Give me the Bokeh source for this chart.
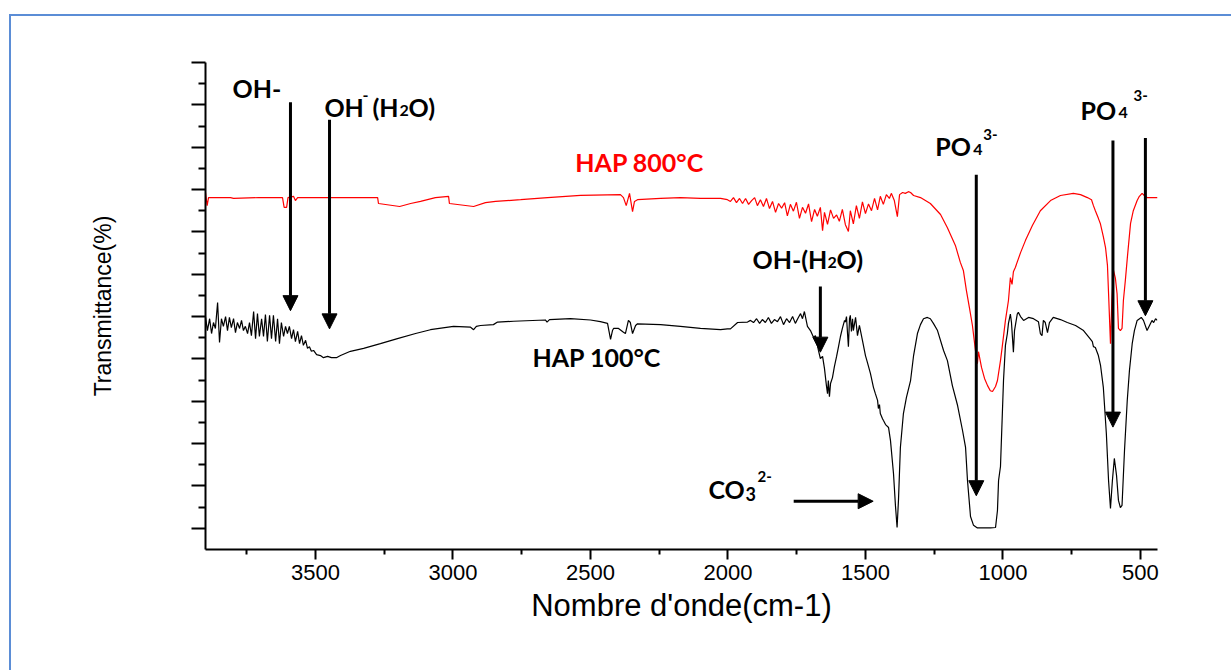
from bokeh.plotting import figure
from bokeh.models import (Range1d, FixedTicker, Label, Arrow, NormalHead,
                          CustomJSTickFormatter)
from bokeh.embed import file_html
from bokeh.resources import INLINE

# ---------------- data (wavenumber cm-1, transmittance a.u.) ----------------
hap800_wn = [3900, 3894, 3889, 3809, 3798, 3707, 3620, 3614, 3605, 3600, 3580, 3573, 3565,
             3274, 3271, 3194, 3154, 3118, 3064, 3016, 3013, 2925, 2882, 2845, 2754, 2656, 2536,
             2391, 2380, 2370, 2358, 2347, 2340, 2329, 2245, 2173, 2100, 2027,
             2002, 1991, 1980, 1969, 1958, 1947, 1936, 1925, 1914, 1903, 1893, 1882, 1871, 1860,
             1849, 1838, 1827, 1816, 1805, 1794, 1784, 1773, 1762, 1751, 1740, 1729, 1718, 1707,
             1696, 1685, 1675, 1664, 1656, 1649, 1638, 1627, 1616, 1605, 1595, 1584, 1573, 1562,
             1555, 1544, 1533, 1522, 1511, 1500, 1489, 1478, 1467, 1456, 1446, 1435, 1424, 1413,
             1406, 1395, 1384, 1376, 1365, 1355, 1344, 1336,
             1325, 1300, 1264, 1227, 1202, 1173, 1155, 1144, 1133, 1122, 1111, 1100, 1093, 1089,
             1078, 1067, 1056, 1046, 1038, 1027, 1020, 1009, 1002, 991, 980, 973, 967, 962, 955,
             936, 918, 893, 864, 827, 791, 744, 718, 693, 678, 671, 664, 653, 646, 635, 627, 620,
             615, 609, 604, 598, 591, 585, 580, 573, 567, 562, 555, 547, 536, 526, 512, 504, 494,
             486, 476, 438]
hap800_t = [79.3, 76.2, 78.1, 78.1, 77.9, 78.1, 78.1, 75.8, 75.8, 78.1, 78.4, 77.4, 78.1,
            78.1, 76.7, 76.0, 76.7, 77.2, 78.1, 78.4, 76.7, 76.0, 76.9, 77.2, 77.6, 78.1, 78.6,
            78.8, 78.1, 76.2, 79.1, 74.8, 77.2, 77.6, 77.9, 78.1, 77.9, 77.9,
            77.6, 77.2, 78.1, 76.9, 77.9, 76.7, 77.9, 76.5, 77.4, 78.1, 76.2, 77.6, 76.0, 77.9,
            75.5, 77.2, 74.6, 76.7, 75.6, 76.9, 73.8, 76.5, 74.9, 77.0, 73.2, 75.8, 74.4, 76.6,
            72.4, 75.3, 73.7, 75.8, 70.3, 74.6, 71.8, 75.2, 73.2, 74.0, 72.5, 75.3, 71.7, 70.1,
            75.0, 71.9, 76.2, 73.2, 77.1, 74.3, 76.6, 75.0, 77.9, 75.2, 78.4, 76.5, 78.8, 77.9,
            79.1, 77.4, 73.6, 78.8, 79.3, 79.1, 79.5, 79.3,
            78.6, 78.1, 76.7, 74.1, 71.0, 66.8, 62.8, 60.9, 56.2, 52.1, 47.9, 42.0, 38.9, 41.7,
            38.0, 35.4, 33.7, 32.5, 32.3, 33.5, 34.9, 39.6, 43.2, 49.1, 53.8, 59.2, 57.6, 60.6, 61.6,
            65.1, 68.0, 71.5, 75.0, 77.4, 78.6, 79.1, 78.8, 78.1, 77.6, 76.2, 75.0, 73.2, 72.0, 68.9, 66.3, 62.1,
            53.8, 43.6, 53.8, 60.9, 59.0, 55.4, 47.2, 46.7, 47.2, 53.8, 58.5, 64.4, 72.0, 75.0, 77.4, 78.4, 79.1,
            78.6, 78.1, 78.1]

hap100_wn = [3900, 3893, 3885, 3878, 3871, 3864, 3856, 3849, 3842, 3835, 3827, 3820, 3813, 3806,
             3798, 3791, 3784, 3776, 3769, 3762, 3755, 3747, 3740, 3733, 3725, 3718, 3711, 3704,
             3696, 3689, 3682, 3675, 3667, 3660, 3653, 3645, 3638, 3631, 3624, 3616, 3609, 3602,
             3595, 3587, 3580, 3573, 3565, 3558, 3551, 3544, 3536, 3529, 3522, 3515, 3507, 3496,
             3482, 3471, 3456, 3442, 3424, 3409, 3373, 3325, 3264, 3202, 3136, 3082, 2998, 2936,
             2925, 2915, 2900, 2853, 2838, 2780, 2664, 2658, 2649, 2573, 2500, 2464, 2438, 2427,
             2420, 2416, 2398, 2380, 2373, 2362, 2355, 2347, 2336, 2329, 2245, 2173, 2100, 2027,
             2002, 1991, 1965, 1929, 1918, 1907, 1896, 1885, 1875, 1864, 1853, 1842, 1831, 1820,
             1809, 1798, 1787, 1776, 1765, 1755, 1744, 1736, 1729, 1722, 1711, 1700, 1689, 1682,
             1671, 1664, 1656, 1649, 1642, 1638, 1635, 1631, 1627, 1620, 1613, 1605, 1598, 1591,
             1584, 1576, 1573, 1569, 1565, 1562, 1558, 1555, 1551, 1547, 1544, 1536, 1529, 1522,
             1511, 1500, 1493, 1482, 1471, 1464, 1456, 1453, 1449, 1446, 1438, 1435, 1427, 1416,
             1409, 1398, 1391, 1385, 1380, 1373, 1362, 1351, 1336, 1325, 1311, 1300, 1289, 1275,
             1264, 1253, 1238, 1216, 1202, 1184, 1165, 1147, 1136, 1129, 1118, 1107, 1093, 1045,
             1027, 1020, 1016, 1009, 998, 991, 984, 980, 973, 969, 962, 958, 948, 944, 936, 925,
             907, 889, 871, 864, 858, 853, 846, 838, 831, 817, 791, 766, 736, 707, 682, 675, 671,
             664, 653, 645, 635, 624, 616, 609, 602, 595, 587, 580, 573, 567, 558, 548, 540, 530,
             522, 512, 497, 489, 476, 467, 458, 452, 445, 439]
hap100_t = [50.0, 46.7, 49.5, 46.0, 48.6, 47.2, 53.3, 43.9, 49.5, 47.7, 50.0, 46.7, 49.8, 47.4,
            49.5, 46.2, 48.6, 47.2, 49.1, 46.7, 47.7, 46.0, 48.6, 45.5, 51.2, 44.8, 50.7, 45.3,
            49.5, 45.3, 50.5, 44.1, 50.3, 44.8, 50.3, 44.1, 49.5, 43.6, 48.6, 45.3, 47.7, 46.0,
            47.7, 44.8, 46.9, 44.1, 46.5, 43.6, 45.5, 43.2, 44.4, 42.5, 42.9, 41.8, 42.0, 41.0,
            40.8, 40.3, 40.6, 40.3, 40.3, 40.8, 41.8, 42.5, 43.6, 44.8, 46.0, 46.9, 47.7, 47.5,
            46.9, 47.7, 47.9, 48.1, 48.7, 48.9, 49.2, 48.7, 49.3, 49.5, 49.2, 48.8, 48.4, 44.6,
            46.7, 47.2, 47.2, 46.3, 46.0, 49.1, 48.6, 46.0, 47.9, 48.3, 48.1, 47.7, 47.2, 46.9,
            47.1, 47.1, 48.6, 48.7, 49.1, 48.6, 49.5, 48.4, 49.3, 48.6, 49.8, 48.4, 49.3, 48.8,
            50.0, 48.1, 49.5, 48.6, 50.0, 48.4, 49.8, 50.7, 49.5, 51.2, 47.7, 46.7, 45.1, 45.5,
            42.0, 40.1, 40.6, 37.7, 33.7, 31.8, 34.9, 31.1, 34.2, 35.6, 38.2, 40.6, 42.9, 45.3,
            47.2, 49.1, 48.7, 50.0, 45.8, 42.9, 49.5, 50.3, 46.5, 49.5, 46.7, 49.8, 45.5, 47.9,
            44.4, 40.8, 39.2, 36.6, 33.3, 31.8, 30.2, 28.3, 29.2, 27.1, 25.9, 25.5, 24.5, 23.8,
            20.7, 12.9, 5.4, 0.2, 6.6, 19.1, 27.1, 30.9, 34.9, 40.8, 46.0, 48.1, 49.5, 49.8,
            49.5, 48.4, 46.7, 42.0, 39.6, 33.7, 29.0, 23.1, 19.1, 11.3, 2.8, 0.7, 0.1, 0.1,
            0.2, 4.2, 11.3, 14.6, 34.9, 43.2, 46.0, 48.4, 50.6, 48.6, 41.6, 46.7, 50.6, 51.0, 50.0, 49.1,
            49.8, 49.5, 48.8, 46.0, 45.5, 49.1, 48.6, 46.2, 48.6, 49.8, 49.3, 48.6, 47.9, 46.7, 44.7, 44.1, 42.9,
            42.7, 40.8, 38.4, 33.3, 22.4, 11.3, 4.7, 11.3, 16.5, 12.5, 6.6, 4.9, 5.4, 18.4, 30.2, 37.3, 43.6,
            46.7, 49.1, 49.8, 49.1, 46.7, 47.9, 49.1, 48.6, 49.5, 49.1]

x_ticks = [3500, 3000, 2500, 2000, 1500, 1000, 500]
x_minor = [3750, 3250, 2750, 2250, 1750, 1250, 750]
y_ticks = list(range(0, 111, 10))
y_minor = list(range(5, 110, 10))

# vertical arrows: wavenumber, start T, end T
arrow_wn = [3591, 3449, 1664, 1097, 600, 482]
arrow_t0 = [100.6, 96.5, 57.1, 83.5, 91.6, 92.2]
arrow_t1 = [51.4, 47.1, 41.6, 7.7, 23.9, 50.2]
# horizontal CO3 arrow
co3_arrow_wn = [1761, 1472]
co3_arrow_t = 6.4

# annotation anchors (wavenumber, transmittance of text baseline)
lab_oh = (3787, 103.9)
lab_oh_h2o = (3453, 99.5)
lab_oh_h2o_2 = (1911, 63.7)
lab_hap800 = (2555, 86.5)
lab_hap100 = (2711, 40.4)
lab_co3 = (2071, 9.4)
lab_po4_a = (1246, 90.4)
lab_po4_b = (718, 98.9)

assert len(hap800_wn) == len(hap800_t), (len(hap800_wn), len(hap800_t))
assert len(hap100_wn) == len(hap100_t), (len(hap100_wn), len(hap100_t))

W, H = 1260, 700
p = figure(width=W, height=H, output_backend="svg", toolbar_location=None,
           x_range=Range1d(3900, 438), y_range=Range1d(-5, 110))
p.min_border_left = 205
p.min_border_right = W - 1157
p.min_border_top = 62
p.min_border_bottom = H - 549
p.outline_line_color = None
p.xgrid.visible = False
p.ygrid.visible = False
p.background_fill_color = "white"
p.border_fill_color = None
# light blue frame of the picture (top and left edges), painted behind the transparent canvas;
# the figure is pinned to the window so its far edges fall outside the view
p.styles = {"position": "fixed", "left": "0px", "top": "0px",
            "background-color": "white",
            "box-shadow": "inset 9px 14px 0px 0px white, inset 11px 16px 0px 0px #5B8DD6"}

p.line(hap800_wn, hap800_t, line_color="#FF0000", line_width=1.2)
p.line(hap100_wn, hap100_t, line_color="black", line_width=1.2)

xa = p.xaxis[0]
xa.ticker = FixedTicker(ticks=x_ticks, minor_ticks=x_minor)
xa.axis_label = "Nombre d'onde(cm-1)"
xa.axis_label_text_font = "Liberation Sans"
xa.axis_label_text_font_style = "normal"
xa.axis_label_text_font_size = "31px"
xa.axis_label_text_color = "black"
xa.axis_label_standoff = 5
xa.major_label_text_font = "Liberation Sans"
xa.major_label_text_font_size = "22px"
xa.major_label_text_color = "black"
xa.major_label_standoff = 5
xa.axis_line_width = 2
xa.major_tick_line_width = 2
xa.minor_tick_line_width = 2
xa.major_tick_out = 10
xa.major_tick_in = 0
xa.minor_tick_out = 5
xa.minor_tick_in = 0

ya = p.yaxis[0]
ya.ticker = FixedTicker(ticks=y_ticks, minor_ticks=y_minor)
ya.formatter = CustomJSTickFormatter(code="return ''")
ya.axis_label = "Transmittance(%)"
ya.axis_label_text_font = "Liberation Sans"
ya.axis_label_text_font_style = "normal"
ya.axis_label_text_font_size = "23px"
ya.axis_label_text_color = "black"
ya.axis_label_standoff = 76
ya.major_label_text_color = None
ya.major_label_standoff = 0
ya.axis_line_width = 2
ya.major_tick_line_width = 2
ya.minor_tick_line_width = 2
ya.major_tick_out = 14
ya.major_tick_in = 0
ya.minor_tick_out = 7
ya.minor_tick_in = 0

for wn, t0, t1 in zip(arrow_wn, arrow_t0, arrow_t1):
    p.add_layout(Arrow(end=NormalHead(size=15, fill_color="black", line_color="black", line_width=1),
                       x_start=wn, y_start=t0, x_end=wn, y_end=t1,
                       line_color="black", line_width=3))
p.add_layout(Arrow(end=NormalHead(size=15, fill_color="black", line_color="black", line_width=1),
                   x_start=co3_arrow_wn[0], y_start=co3_arrow_t,
                   x_end=co3_arrow_wn[1], y_end=co3_arrow_t,
                   line_color="black", line_width=3))

MAIN, SMALL = 25, 16


def add_label(anchor, pieces, color="black"):
    x, y = anchor
    for text, dx, dy, size in pieces:
        p.add_layout(Label(x=x, y=y, x_offset=dx, y_offset=dy, text=text,
                           text_font="Lato", text_font_style="bold",
                           text_font_size=f"{size}px", text_color=color,
                           text_align="left", text_baseline="alphabetic"))


add_label(lab_oh, [("OH-", -4, 0, MAIN)])
add_label(lab_oh_h2o, [("OH", -4, 0, MAIN), ("-", 34, 11, SMALL), ("(H", 44, 0, MAIN),
                       ("2", 71, -4, SMALL), ("O)", 80, 0, MAIN)])
add_label(lab_oh_h2o_2, [("OH-(H", 0, 0, MAIN), ("2", 75, -4, SMALL), ("O)", 84, 0, MAIN)])
add_label(lab_hap800, [("HAP 800°C", 0, 0, MAIN)], color="#FF0000")
add_label(lab_hap100, [("HAP 100°C", 0, 0, MAIN)])
add_label(lab_co3, [("CO", 0, 0, MAIN), ("3", 37, -5, 18), ("2-", 49, 12, 15)])
add_label(lab_po4_a, [("PO", 0, 0, MAIN), ("4", 38, -4, SMALL), ("3-", 48, 11, 15)])
add_label(lab_po4_b, [("PO", 0, 0, MAIN), ("4", 38, -3, SMALL), ("3-", 53, 14, 15)])

open("out.html", "w").write(file_html(p, INLINE))
